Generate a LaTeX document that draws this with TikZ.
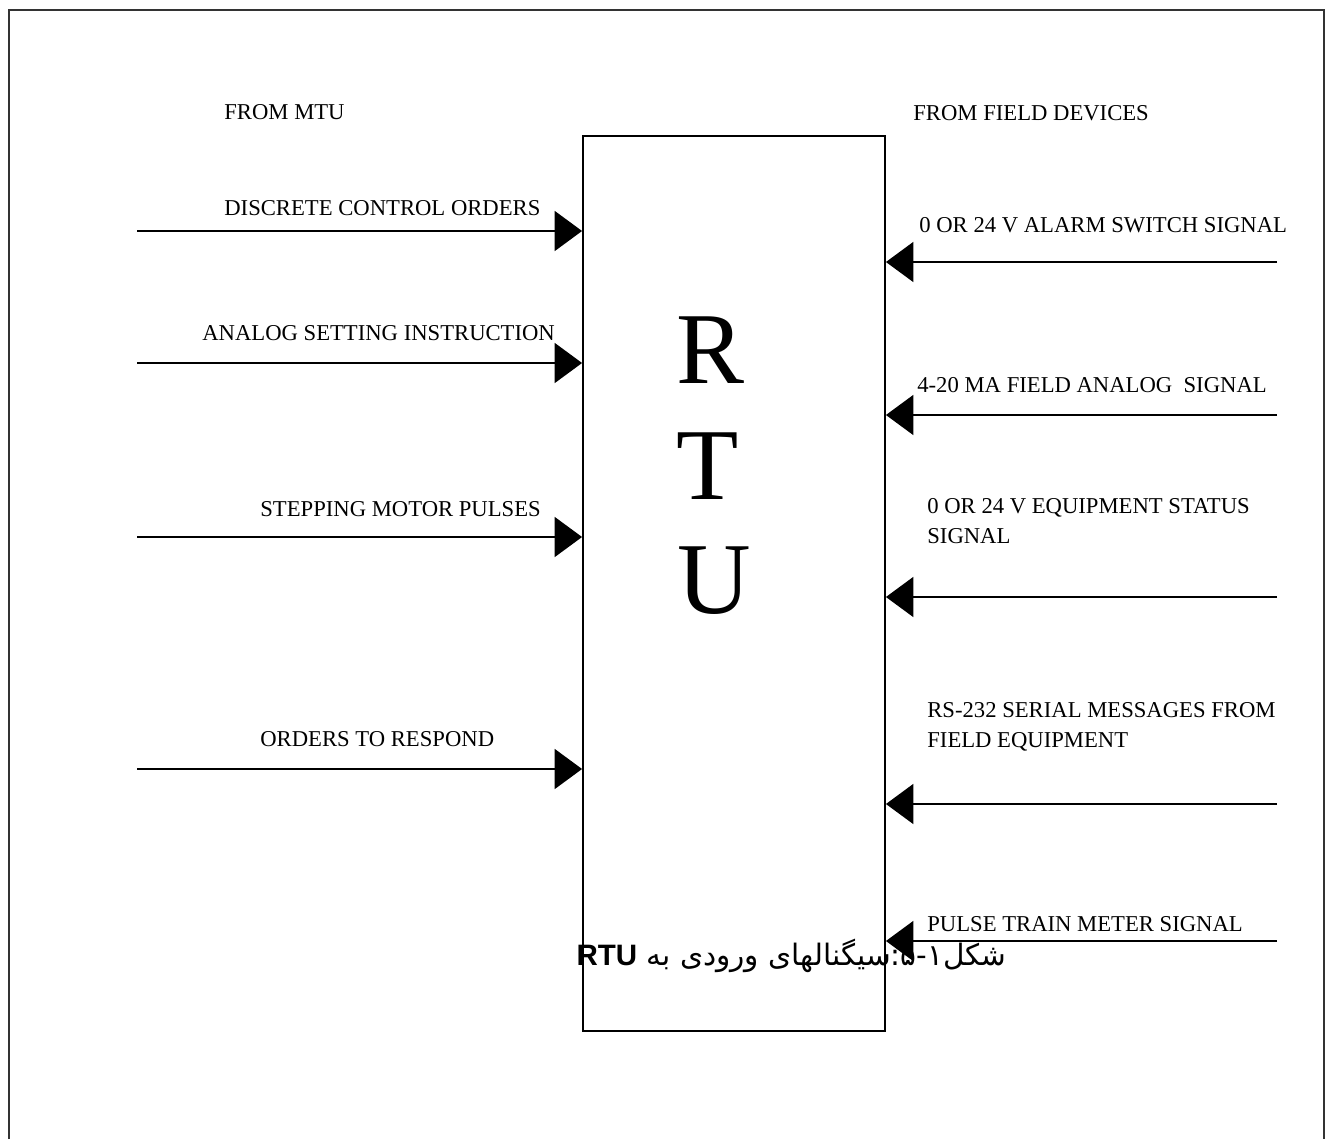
\documentclass[tikz,border=0pt]{standalone}
\usepackage{fontspec}
\setmainfont{Liberation Serif}
\newfontfamily\arabicfont[Script=Arabic]{DejaVu Sans}
\newfontfamily\capfont{Liberation Sans}
\TeXXeTstate=1
\usetikzlibrary{arrows.meta}

\begin{document}
\begin{tikzpicture}[x=0.02cm, y=-0.02cm,
        rtu/.style={rectangle, draw, line width=1.1pt, minimum width=6.04cm, minimum height=17.9cm, inner sep=0pt},
        sig/.style={line width=1.1pt, -{Triangle[length=0.55cm, width=0.8cm]}},
        lbl/.style={anchor=base west, inner sep=0pt, align=left, font=\fontsize{12.9}{17}\selectfont},
        big/.style={anchor=base, inner sep=0pt, font=\fontsize{58}{58}\selectfont}
    ]
        \useasboundingbox (0,0) rectangle (1328,1139);
        % frame
        \draw[line width=1.3pt, black!80] (9,1139) -- (9,10) -- (1324,10) -- (1324,1139);

        % RTU
        \node[rtu] (rtu) at (734,583.5) {};
        \node[big] (r) at (710,383) {R};
        \node[big] (t) at (708,499) {T};
        \node[big] (u) at (714,613) {U};

        % from MTU
        \node[lbl] (mtu) at (224,119) {FROM MTU};
        \coordinate (l1) at (137,231);
        \coordinate (l2) at (137,363);
        \coordinate (l3) at (137,537);
        \coordinate (l4) at (137,769);
        \draw[sig] (l1) -- (l1 -| rtu.west);
        \draw[sig] (l2) -- (l2 -| rtu.west);
        \draw[sig] (l3) -- (l3 -| rtu.west);
        \draw[sig] (l4) -- (l4 -| rtu.west);
        \node[lbl] (dco) at (224,215) {DISCRETE CONTROL ORDERS};
        \node[lbl] (asi) at (202,340) {ANALOG SETTING INSTRUCTION};
        \node[lbl] (smp) at (260,516) {STEPPING MOTOR PULSES};
        \node[lbl] (otr) at (260,746) {ORDERS TO RESPOND};

        % from field devices
        \node[lbl] (fld) at (913,120) {FROM FIELD DEVICES};
        \coordinate (r1) at (1277,262);
        \coordinate (r2) at (1277,415);
        \coordinate (r3) at (1277,597);
        \coordinate (r4) at (1277,804);
        \coordinate (r5) at (1277,941);
        \draw[sig] (r1) -- (r1 -| rtu.east);
        \draw[sig] (r2) -- (r2 -| rtu.east);
        \draw[sig] (r3) -- (r3 -| rtu.east);
        \draw[sig] (r4) -- (r4 -| rtu.east);
        \draw[sig] (r5) -- (r5 -| rtu.east);
        \node[lbl] (alm) at (919,232) {0 OR 24 V ALARM SWITCH SIGNAL};
        \node[lbl] (ana) at (917,392) {4-20 MA FIELD ANALOG \ SIGNAL};
        \node[lbl] (sts) at (927,543) {0 OR 24 V EQUIPMENT STATUS\\SIGNAL};
        \node[lbl] (ser) at (927,747) {RS-232 SERIAL MESSAGES FROM\\FIELD EQUIPMENT};
        \node[lbl] (pls) at (927,931) {PULSE TRAIN METER SIGNAL};

        % caption
        \node[anchor=base east, inner sep=0pt, font=\fontsize{16.8}{20}\selectfont] (cap) at (1007,965)
            {\arabicfont\beginR شکل۱-۵:سیگنالهای ورودی به {\capfont\bfseries\beginL RTU\endL}\endR};
    \end{tikzpicture}
\end{document}
